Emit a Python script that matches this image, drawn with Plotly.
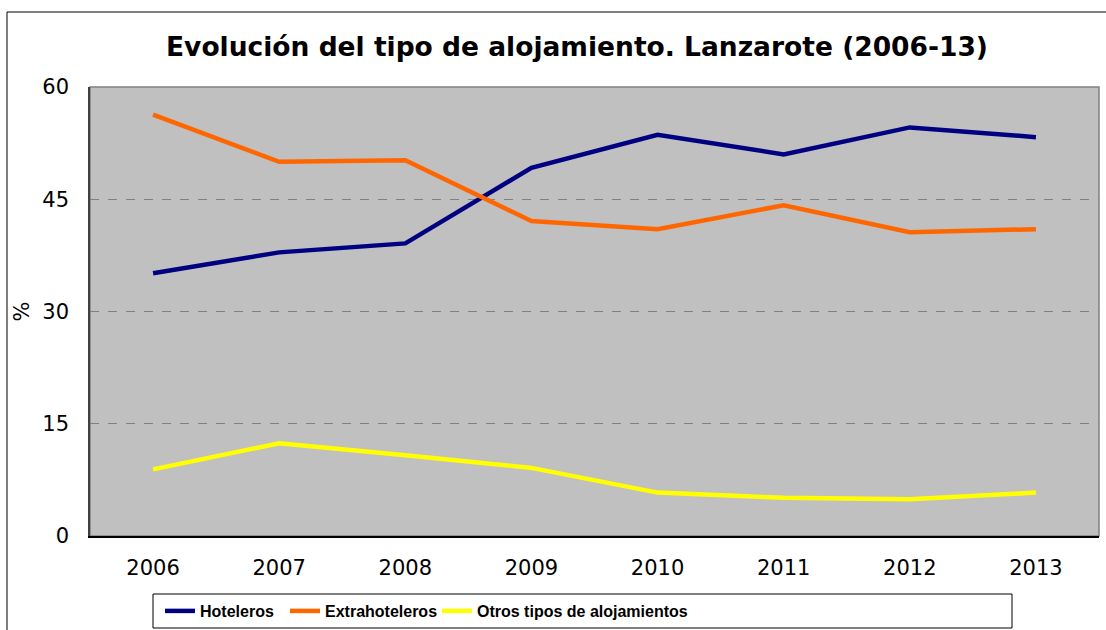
import plotly.graph_objects as go

years = ["2006", "2007", "2008", "2009", "2010", "2011", "2012", "2013"]
hoteleros = [35.1, 37.9, 39.1, 49.2, 53.6, 51.0, 54.6, 53.3]
extrahoteleros = [56.3, 50.0, 50.2, 42.1, 41.0, 44.2, 40.6, 41.0]
otros = [8.9, 12.4, 10.8, 9.1, 5.8, 5.1, 4.9, 5.8]
y_ticks = [0, 15, 30, 45, 60]

W, H = 1106, 630
L, R, T, B = 90, 7, 87, 94
pw, ph = W - L - R, H - T - B

def px(x):
    return (x - L) / pw

def py(y):
    return (H - B - y) / ph

legend_font = dict(family="Liberation Sans, Arial", size=16, color="black")

fig = go.Figure()
fig.add_trace(go.Scatter(x=years, y=hoteleros, mode="lines", name="<b>Hoteleros</b>",
                         line=dict(color="#000080", width=4.5), legend="legend"))
fig.add_trace(go.Scatter(x=years, y=extrahoteleros, mode="lines", name="<b>Extrahoteleros</b>",
                         line=dict(color="#FF6600", width=4.5), legend="legend2"))
fig.add_trace(go.Scatter(x=years, y=otros, mode="lines", name="<b>Otros tipos de alojamientos</b>",
                         line=dict(color="#FFFF00", width=4.5), legend="legend3"))

leg_common = dict(orientation="h", yanchor="middle", xanchor="left", y=py(611),
                  bgcolor="rgba(0,0,0,0)", borderwidth=0, font=legend_font, itemwidth=30)

tick_font = dict(family="DejaVu Sans", size=21, color="black")

fig.update_layout(
    width=W, height=H,
    margin=dict(l=L, r=R, t=T, b=B, autoexpand=False),
    paper_bgcolor="white",
    plot_bgcolor="#C0C0C0",
    title=dict(text="<b>Evolución del tipo de alojamiento. Lanzarote (2006-13)</b>",
               font=dict(family="DejaVu Sans", size=26.5, color="black"),
               x=577 / W, xanchor="center", y=1 - 47 / H, yanchor="middle",
               xref="container", yref="container"),
    showlegend=True,
    legend=dict(x=px(160), **leg_common),
    legend2=dict(x=px(285), **leg_common),
    legend3=dict(x=px(437), **leg_common),
    xaxis=dict(type="category", range=[-0.5, 7.5], showgrid=False, showline=True,
               linecolor="black", linewidth=1.5, ticks="", ticklabelstandoff=12,
               tickfont=tick_font, zeroline=False),
    yaxis=dict(range=[0, 60], tickvals=y_ticks, showgrid=True, gridcolor="#808080",
               griddash="dash", gridwidth=1, showline=True, linecolor="#404040", linewidth=1.5,
               ticks="", ticklabelstandoff=15, zeroline=False,
               tickfont=tick_font,
               title=dict(text="%", font=tick_font, standoff=7)),
    shapes=[
        dict(type="rect", xref="paper", yref="paper", x0=0, x1=1, y0=0, y1=1,
             line=dict(color="#808080", width=1.5), layer="below"),
        dict(type="rect", xref="paper", yref="paper", x0=px(153), x1=px(1012), y0=py(628), y1=py(594),
             line=dict(color="black", width=1), fillcolor="rgba(0,0,0,0)"),
        dict(type="rect", xref="paper", yref="paper", x0=px(7), x1=px(1115), y0=py(645), y1=py(12),
             line=dict(color="black", width=1), fillcolor="rgba(0,0,0,0)"),
    ],
)

fig.write_html("out.html")
